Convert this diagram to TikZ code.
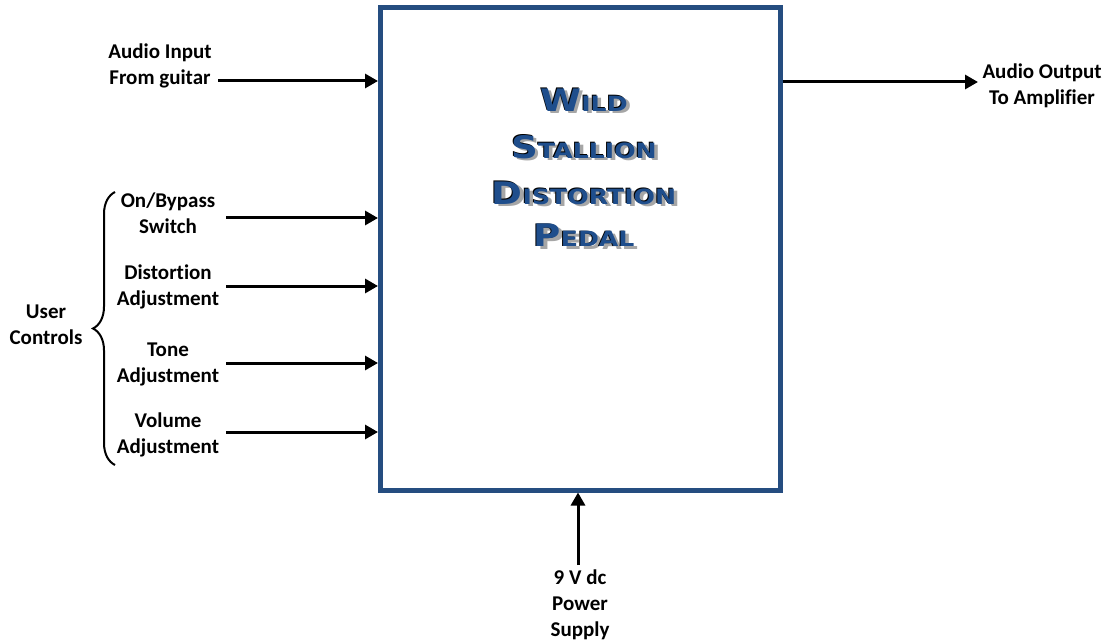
\documentclass[tikz,border=0pt]{standalone}
\usepackage{fontspec}
\setmainfont{Carlito}[Ligatures=NoCommon]
\newfontfamily\ttlfont{DejaVu Sans}[FakeStretch=1.2]
\usetikzlibrary{arrows.meta,decorations.pathreplacing}
\definecolor{boxblue}{HTML}{254D80}
\definecolor{ttlblue}{HTML}{1F4E8C}
\newcommand\scl[2]{{\fontsize{31}{31}\selectfont #1}{\fontsize{21}{21}\selectfont #2}}
\newcommand\ttlline[3]{%
  \node[ttl, text=black!35] (#1s) at (587.5,-#2-2) {\scl#3};
  \node[ttl, text=black] (#1k) at (583,-#2+1) {\scl#3};
  \node[ttl, text=ttlblue] (#1) at (584,-#2) {\scl#3};}
\begin{document}
\begin{tikzpicture}[x=1pt,y=1pt,
  lbl/.style={font=\fontsize{21}{26}\selectfont\bfseries, align=center, inner sep=0pt},
  ttl/.style={font=\ttlfont\bfseries, inner sep=0pt, anchor=base},
  arr/.style={line width=3pt, -{Triangle[length=13pt,width=14pt]}},
  pedalbox/.style={draw=boxblue, line width=5pt, fill=white, minimum width=399.5pt, minimum height=482pt, inner sep=0pt}]
\useasboundingbox (0,0) rectangle (1107,-644);
\node[pedalbox] (box) at (580.25,-249) {};
% title
\ttlline{t1}{112}{{W}{ILD}}
\ttlline{t2}{159}{{S}{TALLION}}
\ttlline{t3}{205}{{D}{ISTORTION}}
\ttlline{t4}{247}{{P}{EDAL}}
% labels
\node[lbl] (ain) at (160,-66) {Audio Input\\From guitar};
\node[lbl] (aout) at (1042,-86) {Audio Output\\To Amplifier};
\node[lbl] (sw) at (168,-213.5) {On/Bypass\\Switch};
\node[lbl] (dist) at (168,-286.5) {Distortion\\Adjustment};
\node[lbl] (tone) at (168,-364.5) {Tone\\Adjustment};
\node[lbl] (vol) at (168,-434.5) {Volume\\Adjustment};
\node[lbl] (user) at (46,-324.5) {User\\Controls};
\node[lbl] (pwr) at (580,-605) {9 V dc\\Power\\Supply};
% arrow starts
\coordinate (ains) at (218,-81);
\coordinate (sws) at (226,-218);
\coordinate (dists) at (226,-286);
\coordinate (tones) at (226,-363);
\coordinate (vols) at (226,-432);
\coordinate (aoute) at (978,-82);
\coordinate (pwrs) at (578,-565);
\draw[arr] (ains) -- (box.west |- ains);
\draw[arr] (sws) -- (box.west |- sws);
\draw[arr] (dists) -- (box.west |- dists);
\draw[arr] (tones) -- (box.west |- tones);
\draw[arr] (vols) -- (box.west |- vols);
\draw[arr] (box.east |- aoute) -- (aoute);
\draw[arr] (pwrs) -- (box.south -| pwrs);
% brace
\coordinate (bb) at (115,-465);
\coordinate (bt) at (115,-192);
\draw[line width=2pt, decorate, decoration={brace, amplitude=22pt}] (bb) -- (bt);
\end{tikzpicture}
\end{document}
